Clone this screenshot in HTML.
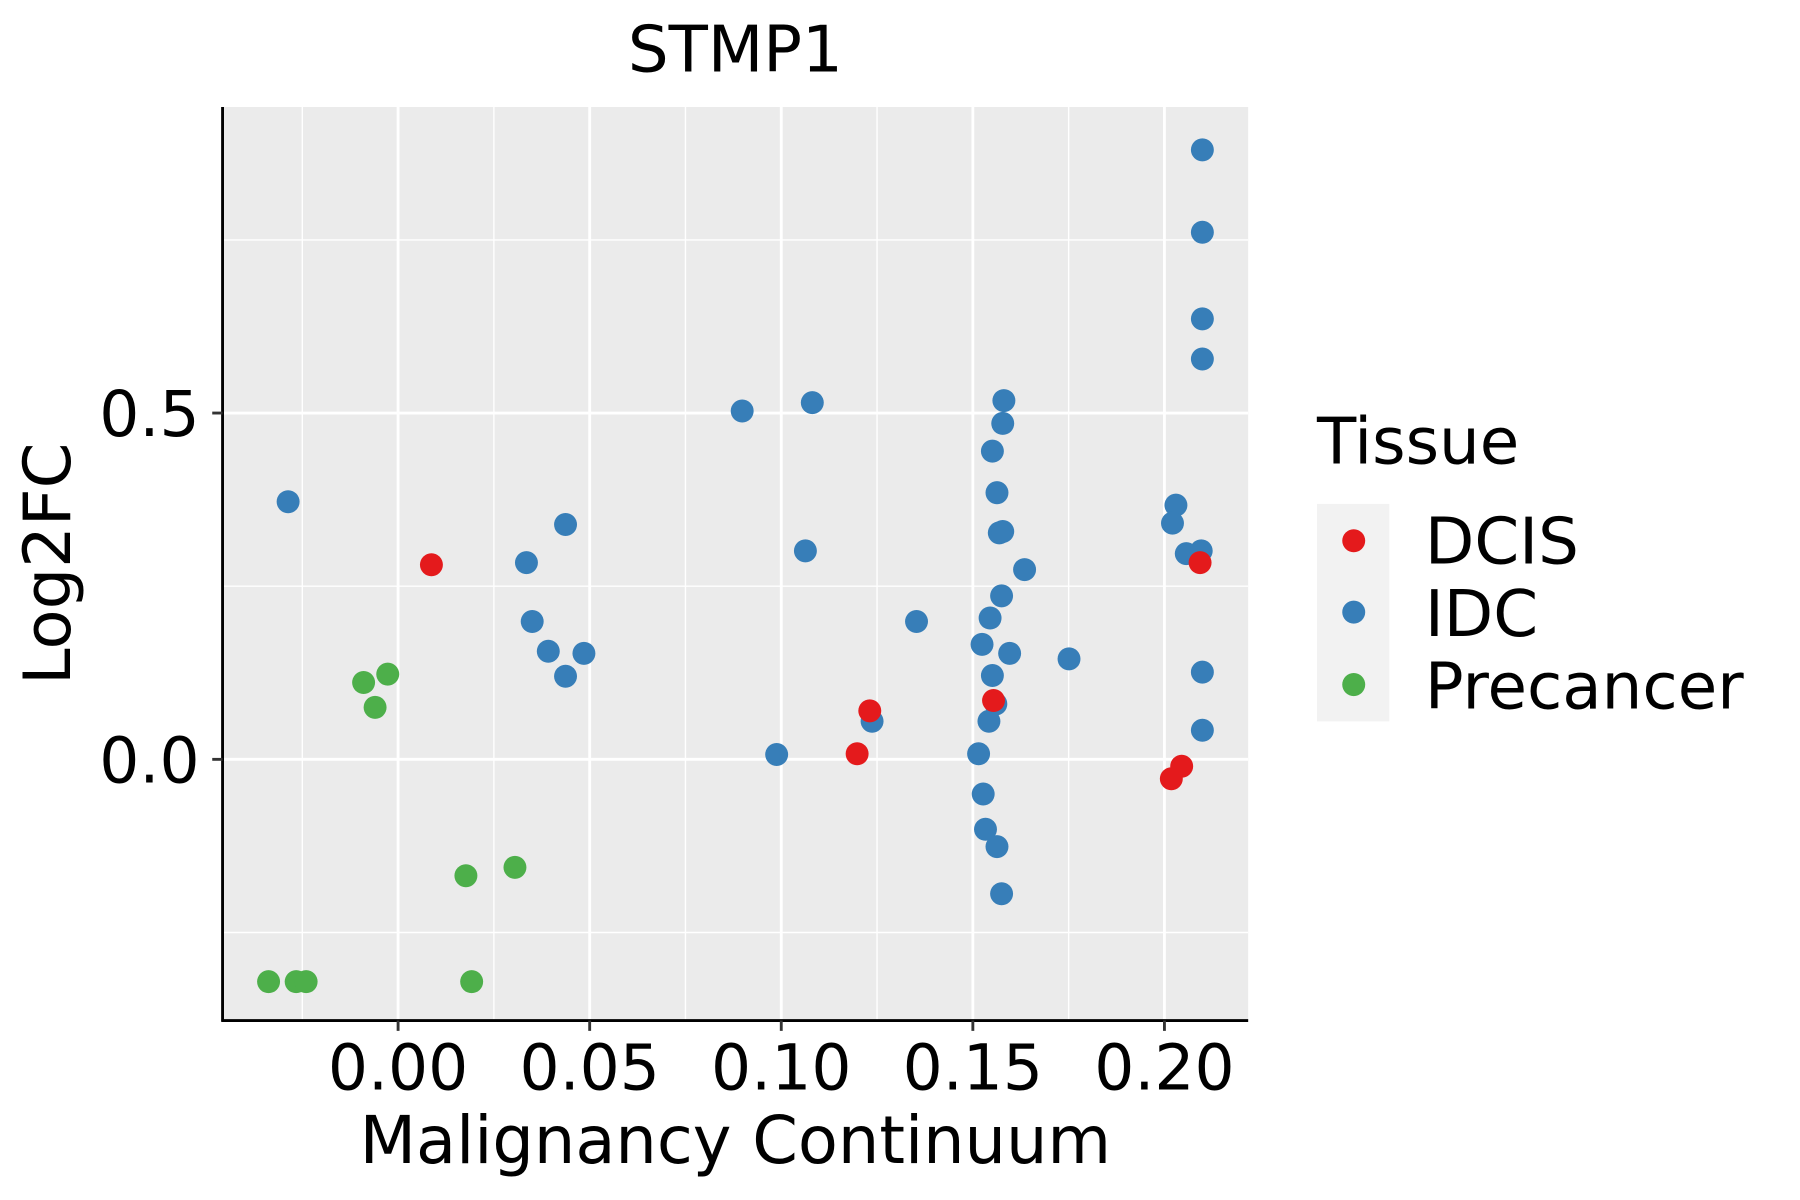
<!DOCTYPE html>
<html><head><meta charset="utf-8"><style>
html,body{margin:0;padding:0;background:#fff;}
svg{display:block;font-family:"DejaVu Sans","Liberation Sans",sans-serif;}
</style></head><body>
<svg id="chart" width="1800" height="1200" viewBox="0 0 1569 1043" preserveAspectRatio="none">
<rect x="0" y="0" width="1569" height="1043" fill="#fff"/>
<rect x="194" y="93" width="894" height="794" fill="#ebebeb"/>
<g id="grid"></g>
<g id="points"></g>
<line x1="194" y1="93" x2="194" y2="888" stroke="#000" stroke-width="2.5"/>
<line x1="193" y1="887" x2="1088" y2="887" stroke="#000" stroke-width="2.5"/>
<g id="ticks"></g>
<text x="641" y="62" font-size="56" text-anchor="middle" fill="#000">STMP1</text>
<text x="641" y="1011" font-size="57" text-anchor="middle" fill="#000">Malignancy Continuum</text>
<text transform="translate(61,490) rotate(-90)" font-size="57" text-anchor="middle" fill="#000">Log2FC</text>
<g>
<text x="1148" y="403" font-size="56" fill="#000">Tissue</text>
<rect x="1148" y="438" width="63" height="189" fill="#f2f2f2"/>
<circle cx="1180" cy="470" r="10" fill="#e41a1c"/>
<circle cx="1180" cy="532" r="10" fill="#377eb8"/>
<circle cx="1180" cy="595" r="10" fill="#4daf4a"/>
<text x="1242" y="490" font-size="56" fill="#000">DCIS</text>
<text x="1242" y="553" font-size="56" fill="#000">IDC</text>
<text x="1242" y="616" font-size="56" fill="#000">Precancer</text>
</g>
</svg>
<script>
const xTicks=[0,0.05,0.10,0.15,0.20];
const xTickLabels=["0.00","0.05","0.10","0.15","0.20"];
const yTicks=[0,0.5];
const yTickLabels=["0.0","0.5"];
const xMinor=[-0.025,0.025,0.075,0.125,0.175];
const yMinor=[-0.25,0.25,0.75];
const idcX=[-0.0287,0.0898,0.1081,0.1063,0.0437,0.0335,0.035,0.0392,0.0485,0.0437,0.0988,0.1237,0.1353,0.1581,0.1578,0.1551,0.1563,0.1569,0.1578,0.1635,0.1575,0.1545,0.1524,0.1596,0.1551,0.156,0.1542,0.1515,0.1527,0.1533,0.1563,0.1575,0.1751,0.2099,0.2099,0.2099,0.2099,0.2030,0.2021,0.2057,0.2096,0.2099,0.2099];
const idcY=[0.372,0.503,0.515,0.301,0.339,0.284,0.199,0.156,0.153,0.120,0.007,0.055,0.199,0.518,0.485,0.445,0.385,0.327,0.329,0.274,0.236,0.204,0.166,0.153,0.121,0.080,0.055,0.008,-0.050,-0.101,-0.126,-0.194,0.145,0.880,0.761,0.636,0.578,0.367,0.341,0.297,0.301,0.126,0.042];
const dcisX=[0.0087,0.1198,0.1231,0.1554,0.2093,0.2045,0.2018];
const dcisY=[0.281,0.008,0.070,0.085,0.284,-0.010,-0.028];
const preX=[-0.009,-0.0027,-0.006,0.0177,0.0305,-0.0338,-0.0266,-0.024,0.0192];
const preY=[0.111,0.123,0.075,-0.168,-0.156,-0.321,-0.321,-0.321,-0.321];

const NS="http://www.w3.org/2000/svg";
function sx(v){return 347+v*3340;}
function sy(v){return 660-v*602;}
const grid=document.getElementById('grid');
const ticks=document.getElementById('ticks');
const pts=document.getElementById('points');
function line(p,x1,y1,x2,y2,w,c){const l=document.createElementNS(NS,'line');l.setAttribute('x1',x1);l.setAttribute('y1',y1);l.setAttribute('x2',x2);l.setAttribute('y2',y2);l.setAttribute('stroke',c);l.setAttribute('stroke-width',w);p.appendChild(l);return l;}
xMinor.forEach(v=>{const l=line(grid,sx(v),93,sx(v),887,1.2,'#fff');

});
yMinor.forEach(v=>{const l=line(grid,194,sy(v),1088,sy(v),1.2,'#fff');

});
xTicks.forEach((v,i)=>{const l=line(grid,sx(v),93,sx(v),887,2.5,'#fff');


const t=line(ticks,sx(v),887,sx(v),896,2.5,'#333');


const tx=document.createElementNS(NS,'text');tx.setAttribute('x',sx(v));tx.setAttribute('y',947);tx.setAttribute('font-size','55');tx.setAttribute('text-anchor','middle');tx.textContent=xTickLabels[i];


ticks.appendChild(tx);});
yTicks.forEach((v,i)=>{const l=line(grid,194,sy(v),1088,sy(v),2.5,'#fff');


const t=line(ticks,185,sy(v),194,sy(v),2.5,'#333');


const tx=document.createElementNS(NS,'text');tx.setAttribute('x',174);tx.setAttribute('y',sy(v)+20);tx.setAttribute('font-size','55');tx.setAttribute('text-anchor','end');tx.textContent=yTickLabels[i];


ticks.appendChild(tx);});
function series(xs,ys,col,name){xs.forEach((x,i)=>{const c=document.createElementNS(NS,'circle');c.setAttribute('cx',sx(x));c.setAttribute('cy',sy(ys[i]));c.setAttribute('r',10);c.setAttribute('fill',col);


pts.appendChild(c);});}
series(idcX,idcY,'#377eb8','point-idc');
series(preX,preY,'#4daf4a','point-precancer');
series(dcisX,dcisY,'#e41a1c','point-dcis');
</script>
</body></html>
